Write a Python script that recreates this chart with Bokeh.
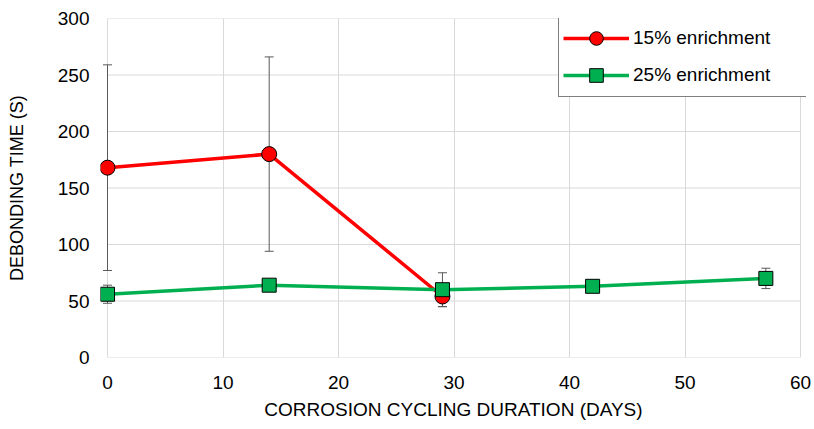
from bokeh.plotting import figure
from bokeh.models import ColumnDataSource, Whisker, TeeHead, Range1d, FixedTicker, Legend, LegendItem
from bokeh.embed import file_html
from bokeh.resources import INLINE

# data
days_15 = [0, 14, 29]
time_15 = [168, 180, 54]
err_15 = [91, 86, 9]

days_25 = [0, 14, 29, 42, 57]
time_25 = [56, 64, 60, 63, 70]
err_25 = [8, 3, 15, 2, 9]

labels = ["15% enrichment", "25% enrichment"]
x_ticks = [0, 10, 20, 30, 40, 50, 60]
y_ticks = [0, 50, 100, 150, 200, 250, 300]

FONT = "Liberation Sans"
RED = "#ff0000"
GREEN = "#00b050"
GRID = "#d9d9d9"

PX_PER_DAY = 693 / 60
X_PAD_L = 7 / PX_PER_DAY   # room so markers at x=0 are not clipped
X_PAD_R = 6 / PX_PER_DAY   # room so legend box is not clipped

p = figure(width=814, height=429, output_backend="svg", toolbar_location=None,
           x_range=Range1d(-X_PAD_L, 60 + X_PAD_R), y_range=Range1d(0, 300),
           min_border_left=100, min_border_right=8, min_border_top=18, min_border_bottom=72)
p.outline_line_color = None
p.background_fill_color = "white"

for ax in (p.xaxis[0], p.yaxis[0]):
    ax.axis_line_color = None
    ax.major_tick_line_color = None
    ax.minor_tick_line_color = None
    ax.major_tick_out = 0
    ax.major_tick_in = 0
    ax.minor_tick_out = 0
    ax.minor_tick_in = 0
    ax.major_label_text_font = FONT
    ax.major_label_text_font_size = "19px"
    ax.major_label_text_color = "#000000"
    ax.axis_label_text_font = FONT
    ax.axis_label_text_font_style = "normal"
    ax.axis_label_text_color = "#000000"

p.xaxis.axis_label_text_font_size = "19px"
p.yaxis.axis_label_text_font_size = "18px"
p.xaxis.ticker = FixedTicker(ticks=x_ticks)
p.yaxis.ticker = FixedTicker(ticks=y_ticks)
p.xaxis.axis_label = "CORROSION CYCLING DURATION (DAYS)"
p.yaxis.axis_label = "DEBONDING TIME (S)"
p.xaxis.major_label_standoff = 18
p.yaxis.major_label_standoff = 11
p.xaxis.axis_label_standoff = 7
p.yaxis.axis_label_standoff = 28

p.xgrid.ticker = FixedTicker(ticks=x_ticks)
p.xgrid.grid_line_color = GRID
p.xgrid.grid_line_width = 1
p.ygrid.grid_line_color = None

# horizontal grid lines spanning the data x-extent only
p.segment(x0=[x_ticks[0]] * len(y_ticks), x1=[x_ticks[-1]] * len(y_ticks),
          y0=y_ticks, y1=y_ticks, line_color=GRID, line_width=1, level="underlay")

src15 = ColumnDataSource(dict(x=days_15, y=time_15,
                              lo=[v - e for v, e in zip(time_15, err_15)],
                              hi=[v + e for v, e in zip(time_15, err_15)]))
src25 = ColumnDataSource(dict(x=days_25, y=time_25,
                              lo=[v - e for v, e in zip(time_25, err_25)],
                              hi=[v + e for v, e in zip(time_25, err_25)]))

for src in (src15, src25):
    w = Whisker(source=src, base="x", lower="lo", upper="hi",
                line_color="#595959", line_width=1,
                upper_head=TeeHead(size=9, line_color="#595959", line_width=1),
                lower_head=TeeHead(size=9, line_color="#595959", line_width=1),
                level="underlay")
    p.add_layout(w)

l1 = p.line("x", "y", source=src15, line_color=RED, line_width=3.5)
m1 = p.scatter("x", "y", source=src15, marker="circle", size=15,
               fill_color=RED, line_color="black", line_width=1)
l2 = p.line("x", "y", source=src25, line_color=GREEN, line_width=3.5)
m2 = p.scatter("x", "y", source=src25, marker="square", size=14,
               fill_color=GREEN, line_color="black", line_width=1)

legend = Legend(items=[LegendItem(label=labels[0], renderers=[l1, m1]),
                       LegendItem(label=labels[1], renderers=[l2, m2])],
                location=(458, 260), orientation="vertical",
                label_text_font=FONT, label_text_font_size="19px",
                label_text_color="#000000",
                glyph_width=66, glyph_height=34, label_height=16, label_width=169,
                spacing=3, padding=4, margin=0,
                border_line_color="black", border_line_width=1,
                background_fill_color="white", background_fill_alpha=1,
                label_standoff=4)
p.add_layout(legend)

open("out.html", "w").write(file_html(p, INLINE))
